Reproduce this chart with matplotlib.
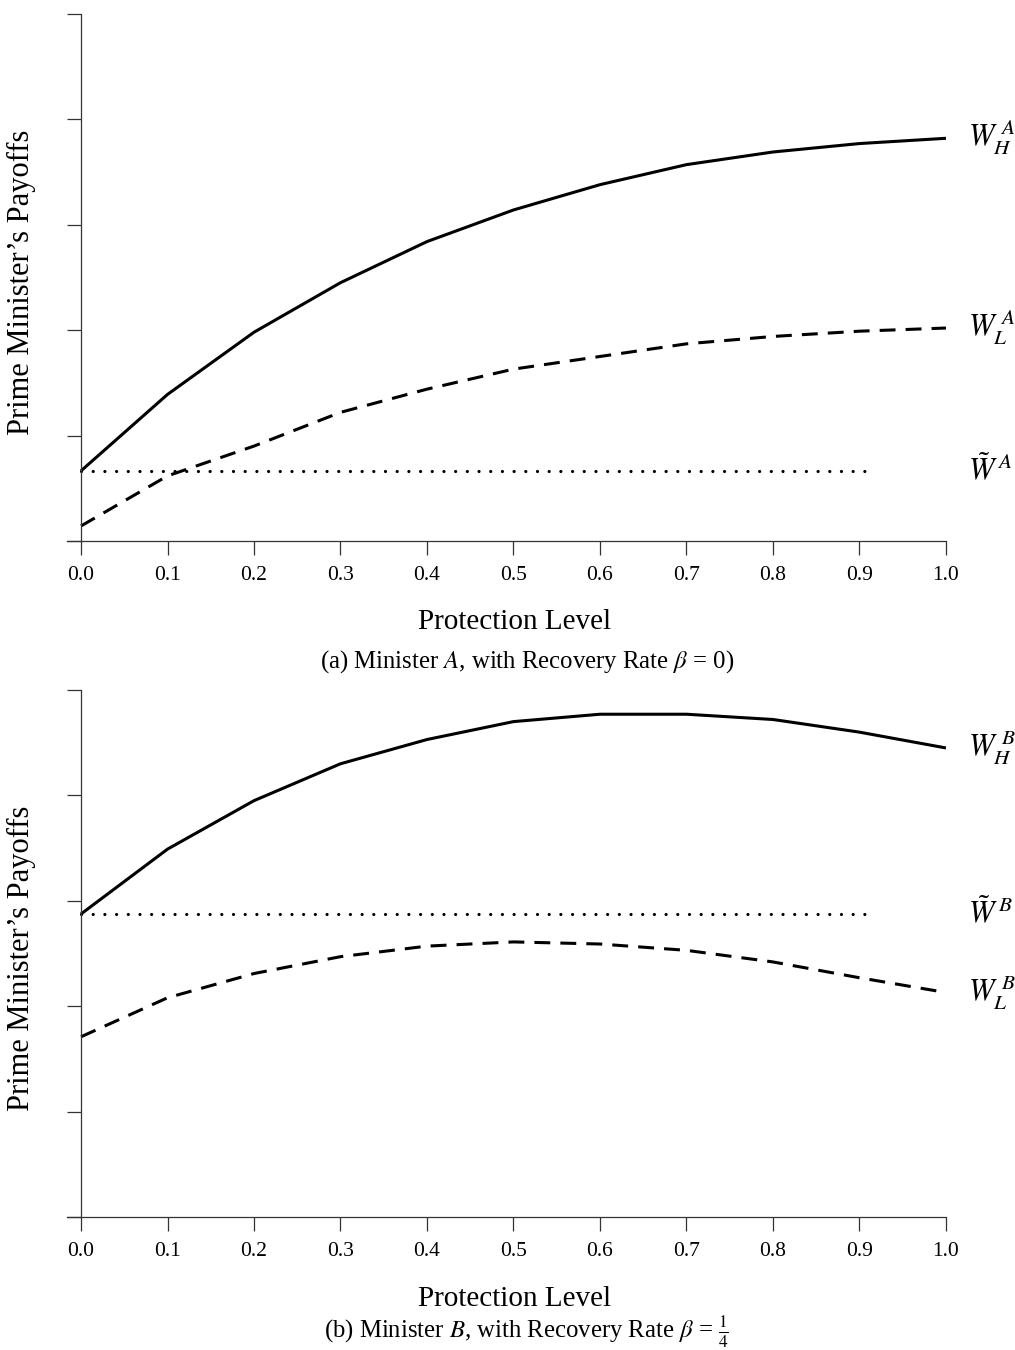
import matplotlib
matplotlib.use("Agg")
import matplotlib.pyplot as plt

plt.rcParams['font.family'] = ['Liberation Serif', 'DejaVu Serif']
plt.rcParams['mathtext.fontset'] = 'stix'

protection = [0.0, 0.1, 0.2, 0.3, 0.4, 0.5, 0.6, 0.7, 0.8, 0.9, 1.0]
x_ticks = [0.0, 0.1, 0.2, 0.3, 0.4, 0.5, 0.6, 0.7, 0.8, 0.9, 1.0]
x_ticklabels = ['0.0', '0.1', '0.2', '0.3', '0.4', '0.5', '0.6', '0.7', '0.8', '0.9', '1.0']
y_ticks = [0, 1, 2, 3, 4, 5]

# panel (a): minister A
wh_a = [0.665, 1.39, 1.98, 2.45, 2.84, 3.14, 3.38, 3.57, 3.69, 3.77, 3.82]
wl_a = [0.142, 0.617, 0.90, 1.22, 1.44, 1.63, 1.75, 1.87, 1.94, 1.99, 2.02]
wt_a = 0.665
# panel (b): minister B
wh_b = [2.875, 3.49, 3.95, 4.30, 4.53, 4.70, 4.77, 4.77, 4.72, 4.60, 4.45]
wl_b = [1.71, 2.08, 2.31, 2.47, 2.57, 2.61, 2.59, 2.53, 2.42, 2.27, 2.13]
wt_b = 2.875
tilde_range = [0.0, 0.912]

fig = plt.figure(figsize=(10.15, 13.5), dpi=100)
ax1 = fig.add_axes([0.066, 0.5993, 0.866, 0.3904])
ax2 = fig.add_axes([0.066, 0.0985, 0.866, 0.3904])


def panel(ax, wh, wl, wt, labels, caption, cap_y):
    ax.plot(protection, wh, color='black', lw=2.2, solid_capstyle='butt')
    ax.plot(protection, wl, color='black', lw=2.2, dashes=(5.2, 3.3))
    ax.plot(tilde_range, [wt, wt], color='black', lw=2.3,
            dashes=(0.01, 3.65), dash_capstyle='round')
    ax.set_xlim(-0.0162, 1.0)
    ax.set_ylim(0, 5)
    ax.set_xticks(x_ticks)
    ax.set_xticklabels(x_ticklabels)
    ax.set_yticks(y_ticks)
    ax.set_yticklabels([])
    ax.spines['top'].set_visible(False)
    ax.spines['right'].set_visible(False)
    ax.spines['left'].set_position(('data', 0))
    for s in ['left', 'bottom']:
        ax.spines[s].set_linewidth(0.9)
        ax.spines[s].set_color('#333333')
    ax.tick_params(direction='out', length=10, width=0.9, color='#333333',
                   labelsize=15.5, pad=8)
    ax.set_ylabel("Prime Minister\u2019s Payoffs", fontsize=22)
    ax.yaxis.set_label_coords(-0.035, 0.49)
    ax.set_xlabel('Protection Level', fontsize=21, labelpad=18)
    ax.xaxis.set_label_coords(0.509, -0.13)
    ax.text(0.523, cap_y, caption, transform=ax.transAxes, ha='center',
            va='baseline', fontsize=17.8)
    for y, lab in zip([wh[-1], wl[-1], wt], labels):
        ax.text(1.025, y, lab, fontsize=22, va='center', ha='left',
                clip_on=False)


panel(ax1, wh_a, wl_a, wt_a,
      [r'$W_H^{\;A}$', r'$W_L^{\;A}$', r'$\tilde{W}^{\;A}$'],
      r'(a) Minister $A$, with Recovery Rate $\beta$ = 0)', -0.241)
panel(ax2, wh_b, wl_b, wt_b,
      [r'$W_H^{\;B}$', r'$W_L^{\;B}$', r'$\tilde{W}^{\;B}$'],
      r'(b) Minister $B$, with Recovery Rate $\beta$ = $\frac{1}{4}$', -0.228)

fig.savefig('out.png', dpi=100)
